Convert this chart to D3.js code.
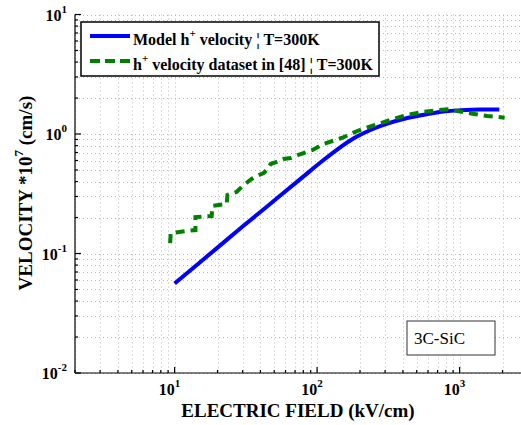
<!DOCTYPE html>
<html>
<head>
<meta charset="utf-8">
<script src="https://cdn.jsdelivr.net/npm/d3@7"></script>
<style>
  body { margin: 0; background: #fff; }
  svg text { font-family: "Liberation Serif", "Times New Roman", serif; }
</style>
</head>
<body>
<div id="chart"></div>
<script>
// model curve (E in kV/cm, v in 1e7 cm/s)
const modelE = [10, 20, 30, 45, 60, 80, 106, 139, 181, 237, 311, 430, 596, 800, 1016, 1400, 1900];
const modelV = [0.056, 0.112, 0.168, 0.25, 0.332, 0.44, 0.58, 0.744, 0.92, 1.08, 1.22, 1.36, 1.466, 1.55, 1.58, 1.6, 1.6];

// dataset from [48]
const dataE = [9.3, 9.4, 11.9, 14.0, 14.0, 18.2, 18.5, 23.2, 23.5, 27.2, 30, 34.7, 37.6, 42.2, 45, 47.2, 52, 58.2, 65.2, 73, 80.3, 93, 111, 150, 180, 207, 264, 337, 418, 547, 713, 822, 964, 1228, 1563, 2070];
const dataV = [0.122, 0.148, 0.154, 0.157, 0.202, 0.206, 0.25, 0.26, 0.309, 0.327, 0.367, 0.42, 0.445, 0.472, 0.509, 0.561, 0.583, 0.618, 0.63, 0.667, 0.693, 0.735, 0.825, 0.93, 1.025, 1.095, 1.206, 1.327, 1.434, 1.527, 1.59, 1.61, 1.56, 1.48, 1.415, 1.37];

const xMajor = [10, 100, 1000];
const yMajor = [0.01, 0.1, 1, 10];

const width = 521;
const height = 425;
const serif = "'Liberation Serif', 'Times New Roman', serif";

const x = d3.scaleLog().domain([2, 3000]).range([75, 527.6]);
const y = d3.scaleLog().domain([0.01, 10]).range([373, 14.5]);

const svg = d3.select("#chart")
    .append("svg")
        .attr("width", width)
        .attr("height", height)
        .attr("font-family", serif);

svg.append("rect").attr("width", width).attr("height", height).attr("fill", "#fff");

// all decade + minor positions
const xGrid = x.ticks(30).filter(d => d >= 2 && d <= 3000);
const yGrid = y.ticks(40);

const grid = svg.append("g").attr("stroke", "#b8b8b8").attr("stroke-width", 1).attr("stroke-dasharray", "1,3");
grid.selectAll(".gx").data(xGrid).join("line")
    .attr("x1", d => Math.round(x(d)) + 0.5).attr("x2", d => Math.round(x(d)) + 0.5)
    .attr("y1", y(10)).attr("y2", y(0.01));
grid.selectAll(".gy").data(yGrid).join("line")
    .attr("y1", d => Math.round(y(d)) + 0.5).attr("y2", d => Math.round(y(d)) + 0.5)
    .attr("x1", x(2)).attr("x2", width);

// axes lines + inward ticks
const ax = svg.append("g").attr("stroke", "#000").attr("stroke-width", 1.2);
ax.append("line").attr("x1", 75).attr("x2", 75).attr("y1", y(10)).attr("y2", y(0.01));
ax.append("line").attr("x1", 75).attr("x2", width).attr("y1", y(0.01)).attr("y2", y(0.01));
ax.selectAll(".tx").data(xGrid).join("line")
    .attr("x1", d => x(d)).attr("x2", d => x(d))
    .attr("y1", y(0.01)).attr("y2", d => y(0.01) - (xMajor.includes(d) ? 6 : 3));
ax.selectAll(".ty").data(yGrid).join("line")
    .attr("y1", d => y(d)).attr("y2", d => y(d))
    .attr("x1", 75).attr("x2", d => 75 + (yMajor.includes(d) ? 6 : 3));

// tick labels
const expOf = d => Math.round(Math.log10(d));
const tl = svg.append("g").attr("font-weight", "bold").attr("font-size", 16).attr("fill", "#000");
xMajor.forEach(d => {
    const t = tl.append("text").attr("font-family", serif).attr("x", x(d) - 5).attr("y", 395).attr("text-anchor", "middle");
    t.append("tspan").text("10");
    t.append("tspan").attr("font-size", 11).attr("dy", -8).text(expOf(d));
});
yMajor.forEach(d => {
    const t = tl.append("text").attr("font-family", serif).attr("x", 67).attr("y", y(d) + 6).attr("text-anchor", "end");
    t.append("tspan").text("10");
    t.append("tspan").attr("font-size", 11).attr("dy", -8).text(expOf(d));
});

// axis titles
svg.append("text").attr("font-family", serif).attr("x", 298).attr("y", 417).attr("text-anchor", "middle")
    .attr("font-weight", "bold").attr("font-size", 19).text("ELECTRIC FIELD (kV/cm)");

const yt = svg.append("text").attr("font-family", serif)
    .attr("transform", "translate(32,193) rotate(-90)").attr("text-anchor", "middle")
    .attr("font-weight", "bold").attr("font-size", 19);
yt.append("tspan").text("VELOCITY *10");
yt.append("tspan").attr("font-size", 13).attr("dy", -9).text("7");
yt.append("tspan").attr("dy", 9).text(" (cm/s)");

// lines
const line = d3.line()
    .x(d => x(d[0]))
    .y(d => y(d[1]))
    .curve(d3.curveMonotoneX);

svg.append("path")
    .datum(modelE.map((e, i) => [e, modelV[i]]))
    .attr("fill", "none")
    .attr("stroke", "#0000ff")
    .attr("stroke-width", 4)
    .attr("d", line);

svg.append("path")
    .datum(dataE.map((e, i) => [e, dataV[i]]))
    .attr("fill", "none")
    .attr("stroke", "#008000")
    .attr("stroke-width", 4)
    .attr("stroke-dasharray", "9,6")
    .attr("d", d3.line().x(d => x(d[0])).y(d => y(d[1])));

// legend
const lg = svg.append("g");
lg.append("rect").attr("x", 81).attr("y", 22).attr("width", 298).attr("height", 54)
    .attr("fill", "#fff").attr("stroke", "#000").attr("stroke-width", 1.5);
lg.append("line").attr("x1", 90).attr("x2", 130).attr("y1", 36).attr("y2", 36)
    .attr("stroke", "#0000ff").attr("stroke-width", 4);
lg.append("line").attr("x1", 90).attr("x2", 130).attr("y1", 61).attr("y2", 61)
    .attr("stroke", "#008000").attr("stroke-width", 4).attr("stroke-dasharray", "10,5");

const l1 = lg.append("text").attr("font-family", serif).attr("x", 133).attr("y", 45).attr("font-weight", "bold").attr("font-size", 16);
l1.append("tspan").text("Model h");
l1.append("tspan").attr("font-size", 11).attr("dy", -8).text("+");
l1.append("tspan").attr("dy", 8).text(" velocity \u00A6 T=300K");

const l2 = lg.append("text").attr("font-family", serif).attr("x", 133).attr("y", 70).attr("font-weight", "bold").attr("font-size", 16);
l2.append("tspan").text("h");
l2.append("tspan").attr("font-size", 11).attr("dy", -8).text("+");
l2.append("tspan").attr("dy", 8).text(" velocity dataset in [48] \u00A6 T=300K");

// material label
svg.append("rect").attr("x", 407).attr("y", 321).attr("width", 88).attr("height", 34)
    .attr("fill", "#fff").attr("stroke", "#333").attr("stroke-width", 1);
svg.append("text").attr("font-family", serif).attr("x", 414).attr("y", 344).attr("font-size", 17).text("3C-SiC");
</script>
</body>
</html>
